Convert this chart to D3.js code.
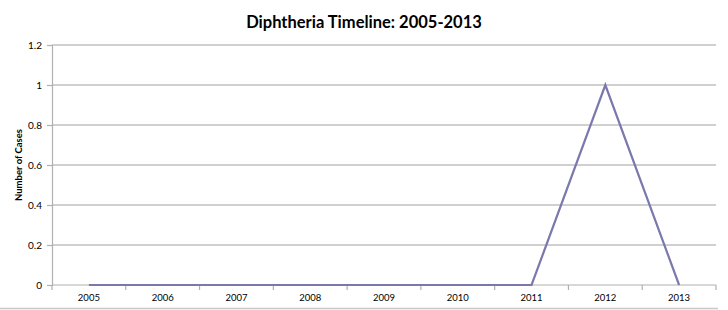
<!DOCTYPE html>
<html>
<head>
<meta charset="utf-8">
<script src="https://cdn.jsdelivr.net/npm/d3@7"></script>
<style>
  body { margin: 0; background: #fff; }
  svg text { font-family: Lato, 'Open Sans', sans-serif; }
</style>
</head>
<body>
<div id="chart"></div>
<script>
// Data
const years = ['2005', '2006', '2007', '2008', '2009', '2010', '2011', '2012', '2013'];
const cases = [0, 0, 0, 0, 0, 0, 0, 1, 0];
const yTicks = [0, 0.2, 0.4, 0.6, 0.8, 1, 1.2];

// Set up margins
const width = 728;
const height = 310;
const leftMargin = 52;
const rightMargin = 12;
const topMargin = 45;
const botMargin = 25;

const plotW = width - leftMargin - rightMargin;
const plotH = height - topMargin - botMargin;

const svg = d3.select('#chart')
  .append('svg')
  .attr('width', width)
  .attr('height', height);

const g = svg.append('g')
  .attr('transform', `translate(${leftMargin},${topMargin})`);

// scales
const x = d3.scaleBand()
  .domain(years)
  .range([0, plotW]);

const y = d3.scaleLinear()
  .domain([0, 1.2])
  .range([plotH, 0]);

// gridlines
g.selectAll('.grid')
  .data(yTicks.filter(d => d > 0))
  .enter()
  .append('line')
  .attr('x1', 0)
  .attr('x2', plotW)
  .attr('y1', d => y(d))
  .attr('y2', d => y(d))
  .attr('stroke', '#c0c0c0')
  .attr('stroke-width', 1.5);

// y-axis
const yAxis = g.append('g')
  .call(d3.axisLeft(y).tickValues(yTicks).tickSize(5).tickPadding(5).tickFormat(d3.format('~g')));
yAxis.selectAll('path, line').attr('stroke', '#b0b0b0').attr('stroke-width', 1.2);
yAxis.selectAll('text').attr('font-size', '10px').attr('fill', '#000');

// x-axis: ticks at category boundaries
const xAxis = g.append('g')
  .attr('transform', `translate(0,${plotH})`);
xAxis.append('line')
  .attr('x1', 0).attr('x2', plotW)
  .attr('stroke', '#b0b0b0')
  .attr('stroke-width', 1.2);
xAxis.selectAll('.xtick')
  .data(years.concat(['end']))
  .enter()
  .append('line')
  .attr('x1', (d, i) => i * x.step())
  .attr('x2', (d, i) => i * x.step())
  .attr('y1', 0)
  .attr('y2', 5)
  .attr('stroke', '#b0b0b0')
  .attr('stroke-width', 1.2);
xAxis.selectAll('.xlabel')
  .data(years)
  .enter()
  .append('text')
  .attr('x', d => x(d) + x.bandwidth() / 2)
  .attr('y', 16)
  .attr('text-anchor', 'middle')
  .attr('font-size', '9.5px')
  .text(d => d);

// line
const line = d3.line()
  .x((d, i) => x(years[i]) + x.bandwidth() / 2)
  .y(d => y(d));

g.append('path')
  .datum(cases)
  .attr('fill', 'none')
  .attr('stroke', '#7979ad')
  .attr('stroke-width', 2.2)
  .attr('d', line);

// title
svg.append('text')
  .attr('x', 364)
  .attr('y', 28)
  .attr('text-anchor', 'middle')
  .attr('font-size', '16.5px')
  .attr('font-weight', 'bold')
  .text('Diphtheria Timeline: 2005-2013');

// y-axis label
svg.append('text')
  .attr('transform', 'rotate(-90)')
  .attr('x', -165)
  .attr('y', 22)
  .attr('text-anchor', 'middle')
  .attr('font-size', '9.5px')
  .attr('font-weight', 'bold')
  .text('Number of Cases');

// bottom border
svg.append('line')
  .attr('x1', 0).attr('x2', 718)
  .attr('y1', 308.5).attr('y2', 308.5)
  .attr('stroke', '#c8c8c8')
  .attr('stroke-width', 1.5);
</script>
</body>
</html>
